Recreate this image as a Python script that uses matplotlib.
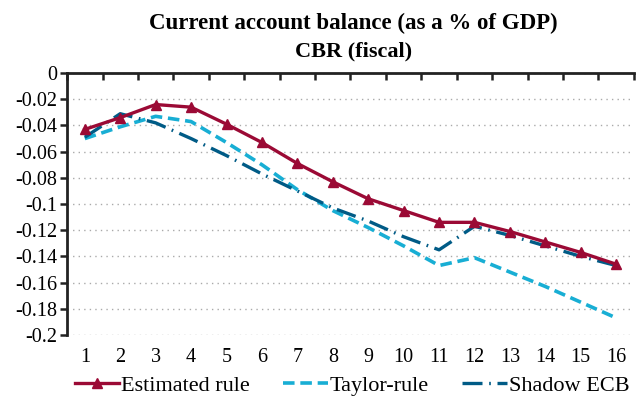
import matplotlib
matplotlib.use('agg')
import matplotlib.pyplot as plt
from matplotlib.ticker import FixedLocator, FuncFormatter

# values
periods = list(range(1, 17))
estimated_rule = [-0.043, -0.034, -0.024, -0.026, -0.039, -0.053, -0.069, -0.083,
                  -0.096, -0.105, -0.114, -0.114, -0.121, -0.129, -0.137, -0.146]
taylor_rule = [-0.050, -0.041, -0.033, -0.037, -0.053, -0.070, -0.089, -0.105,
               -0.118, -0.132, -0.147, -0.141, -0.152, -0.163, -0.175, -0.187]
shadow_ecb = [-0.049, -0.031, -0.038, -0.050, -0.063, -0.077, -0.090, -0.103,
              -0.113, -0.125, -0.135, -0.117, -0.124, -0.132, -0.140, -0.147]

plt.rcParams['font.family'] = ['Liberation Serif', 'DejaVu Serif']

fig = plt.figure(figsize=(6.39, 4.04), dpi=100)
ax = fig.add_axes([0.105, 0.171, 0.887, 0.648])

ax.plot(periods, estimated_rule, color='#9b0a35', lw=2.4, marker='^', ms=7,
        label='Estimated rule', zorder=4)
ax.plot(periods, taylor_rule, color='#18aed4', lw=2.6, dashes=(3.2, 1.6),
        label='Taylor-rule', zorder=3)
ax.plot(periods, shadow_ecb, color='#005b86', lw=2.4, dashes=(6, 2, 0.5, 2),
        label='Shadow ECB', zorder=3)

ax.set_xlim(0.5, 16.5)
ax.set_ylim(-0.2, 0)

# x axis: labels at the bottom, boundary ticks on the top line (y = 0)
ax.set_xticks(periods)
ax.xaxis.set_minor_locator(FixedLocator([p - 0.5 for p in periods] + [16.5]))
ax.tick_params(axis='x', which='major', bottom=False, top=False, labelsize=14.5, pad=6)
ax.tick_params(axis='x', which='minor', bottom=False, top=True, direction='in',
               length=5, width=1.8, color='#222222')

yt = [-0.02 * i for i in range(11)]
ax.set_yticks(yt)
ax.yaxis.set_major_formatter(FuncFormatter(
    lambda v, _: '0' if abs(v) < 1e-9 else ('%g' % round(v, 2))))
ax.tick_params(axis='y', direction='out', length=5, width=1.8, color='#222222',
               labelsize=14.5, pad=2)

ax.yaxis.grid(True, linestyle=(0, (1, 3)), color='#aaaaaa', lw=1)
ax.set_axisbelow(True)

for side in ['right', 'bottom']:
    ax.spines[side].set_visible(False)
for side in ['left', 'top']:
    ax.spines[side].set_linewidth(2)
    ax.spines[side].set_color('#222222')

fig.text(0.553, 0.943, 'Current account balance (as a % of GDP)', ha='center',
         va='center', fontsize=16.5, fontweight='bold')
fig.text(0.553, 0.873, 'CBR (fiscal)', ha='center', va='center',
         fontsize=16, fontweight='bold')

fig.legend(loc='center', bbox_to_anchor=(0.551, 0.045), ncol=3, frameon=False,
           fontsize=16, handlelength=2.0, columnspacing=1.5, handletextpad=0.1,
           borderaxespad=0)

fig.savefig('out.png', dpi=100)
